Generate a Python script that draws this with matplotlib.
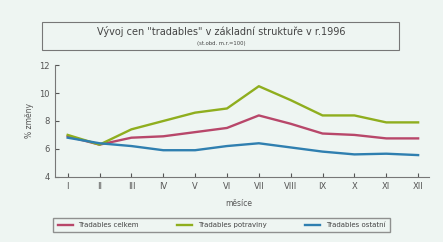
import matplotlib.pyplot as plt
from matplotlib.patches import Rectangle

mesice = ['I', 'II', 'III', 'IV', 'V', 'VI', 'VII', 'VIII', 'IX', 'X', 'XI', 'XII']
celkem = [6.9, 6.3, 6.8, 6.9, 7.2, 7.5, 8.4, 7.8, 7.1, 7.0, 6.75, 6.75]
potraviny = [7.0, 6.3, 7.4, 8.0, 8.6, 8.9, 10.5, 9.5, 8.4, 8.4, 7.9, 7.9]
ostatni = [6.8, 6.4, 6.2, 5.9, 5.9, 6.2, 6.4, 6.1, 5.8, 5.6, 5.65, 5.55]

bg = '#eef5f2'
fig = plt.figure(figsize=(4.43, 2.42), dpi=100, facecolor=bg)
ax = fig.add_axes([0.124, 0.27, 0.845, 0.46], facecolor=bg)

x = range(len(mesice))
ax.plot(x, celkem, color='#b8476a', lw=1.7, label='Tradables celkem')
ax.plot(x, potraviny, color='#8fae1e', lw=1.7, label='Tradables potraviny')
ax.plot(x, ostatni, color='#2f7fb0', lw=1.7, label='Tradables ostatní')

ax.set_ylim(4, 12)
ax.set_yticks([4, 6, 8, 10, 12])
ax.set_xlim(-0.4, 11.35)
ax.set_xticks(list(x))
ax.set_xticklabels(mesice)
ax.tick_params(labelsize=6, colors='#555555', length=3, direction='in')
for s in ['top', 'right']:
    ax.spines[s].set_visible(False)
for s in ['left', 'bottom']:
    ax.spines[s].set_color('#777777')
ax.set_ylabel('% změny', fontsize=5.5, color='#555555')
ax.set_xlabel('měsíce', fontsize=5.5, color='#555555')
ax.xaxis.set_label_coords(0.49, -0.2)

# titulek v rámečku
fig.patches.append(Rectangle((0.095, 0.795), 0.805, 0.115, transform=fig.transFigure,
                             fill=False, ec='#777777', lw=0.8))
fig.text(0.5, 0.87, 'Vývoj cen "tradables" v základní struktuře v r.1996',
         ha='center', va='center', fontsize=7, color='#444444')
fig.text(0.5, 0.822, '(st.obd. m.r.=100)', ha='center', va='center',
         fontsize=3.8, color='#444444')

leg = fig.legend(loc='center', bbox_to_anchor=(0.5, 0.07), ncol=3, fontsize=5,
                 frameon=True, fancybox=False, edgecolor='#777777', facecolor=bg,
                 handlelength=2.2, columnspacing=5.5, borderpad=0.6)
for t in leg.get_texts():
    t.set_color('#444444')

plt.savefig('out.png', dpi=100, facecolor=bg)
